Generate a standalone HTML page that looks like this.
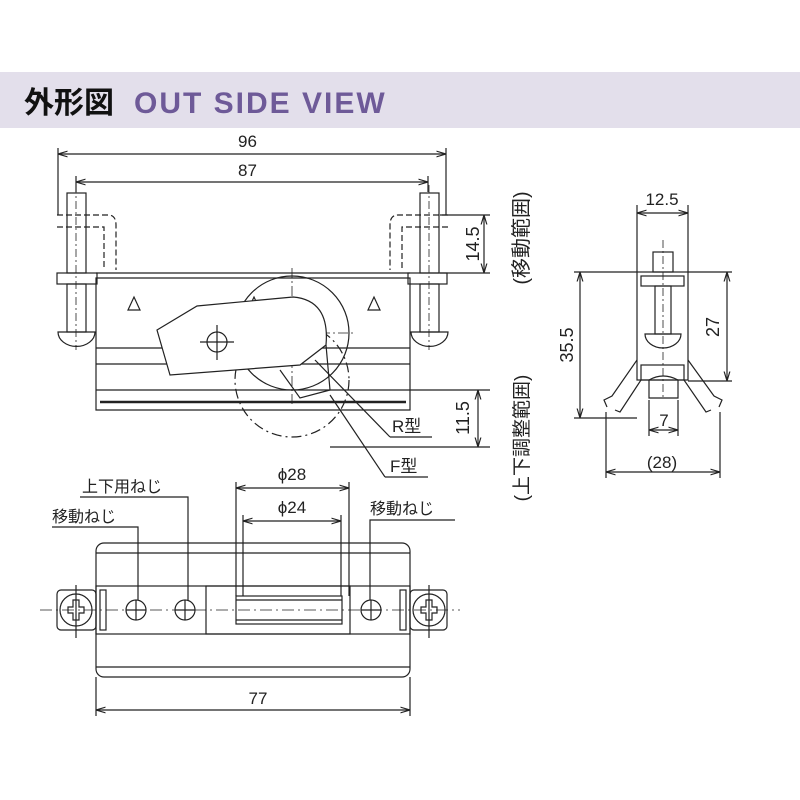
<!DOCTYPE html>
<html><head><meta charset="utf-8"><style>
body{margin:0;background:#fff}
svg{display:block}
text{font-family:"Liberation Sans","Noto Sans CJK JP",sans-serif;fill:#222}
</style></head><body>
<svg width="800" height="800" viewBox="0 0 800 800" xmlns="http://www.w3.org/2000/svg">
<defs>
<marker id="a" viewBox="0 0 10 10" refX="10" refY="5" markerWidth="8" markerHeight="8" orient="auto-start-reverse"><path d="M0,2 L10,5 L0,8" fill="none" stroke="#222" stroke-width="1.2"/></marker>
</defs>
<rect x="0" y="72" width="800" height="56" fill="#e3dfeb"/>
<text x="24" y="113" font-size="30" font-weight="bold" style="fill:#111">外形図</text>
<text x="134" y="113" font-size="30" font-weight="bold" letter-spacing="2" style="fill:#6e5a98">OUT SIDE VIEW</text>

<g stroke="#222" stroke-width="1.2" fill="none">
<line x1="58" y1="148" x2="58" y2="215"/><line x1="446" y1="148" x2="446" y2="215"/>
<line x1="58" y1="154" x2="446" y2="154" marker-start="url(#a)" marker-end="url(#a)"/>
<line x1="76" y1="176" x2="76" y2="192"/><line x1="428" y1="176" x2="428" y2="192"/>
<line x1="76" y1="182" x2="428" y2="182" marker-start="url(#a)" marker-end="url(#a)"/>
<path d="M96,278 L96,410 L410,410 L410,278 Z"/>
<line x1="96" y1="348" x2="410" y2="348"/>
<line x1="96" y1="364" x2="410" y2="364"/>
<line x1="96" y1="390" x2="490" y2="390"/>
<line x1="100" y1="402" x2="406" y2="402" stroke-width="2.5"/>
<line x1="96" y1="273" x2="410" y2="273"/>
<rect x="57" y="273" width="40" height="11"/>
<rect x="67" y="193" width="19" height="80"/>
<rect x="67" y="284" width="19" height="48"/>
<path d="M58,332 L95,332 A18,14 0 0 1 58,332 Z"/>
<path d="M57,215 L108,215 Q116,215 116,225 L116,270" stroke-dasharray="6,3"/>
<path d="M57,227 L104,227 L104,270" stroke-dasharray="6,3"/>
<line x1="76" y1="185" x2="76" y2="350" stroke-dasharray="8,3,2,3" stroke-width="0.8"/>
<rect x="408" y="273" width="39" height="11"/>
<rect x="420" y="193" width="19" height="80"/>
<rect x="420" y="284" width="19" height="48"/>
<path d="M411,332 L448,332 A18,14 0 0 1 411,332 Z"/>
<path d="M448,215 L398,215 Q390,215 390,225 L390,270" stroke-dasharray="6,3"/>
<path d="M448,227 L402,227 L402,270" stroke-dasharray="6,3"/>
<line x1="429" y1="185" x2="429" y2="350" stroke-dasharray="8,3,2,3" stroke-width="0.8"/>
<path d="M128,310 L134,297 L140,310 Z"/><path d="M248,310 L254,297 L260,310 Z"/><path d="M368,310 L374,297 L380,310 Z"/>
<circle cx="292" cy="333" r="57"/>
<circle cx="292" cy="380" r="57" stroke-dasharray="10,4,2,4"/>
<line x1="292" y1="268" x2="292" y2="405" stroke-dasharray="10,3,2,3" stroke-width="0.8"/>
<line x1="230" y1="333" x2="355" y2="333" stroke-dasharray="10,3,2,3" stroke-width="0.8"/>
<path d="M157,330 L197,306 L293,297 Q330,300 326,345 L300,365 L170,375 Z" fill="#fff"/>
<path d="M326,345 L330,390 L300,398 L280,370"/>
<circle cx="217" cy="342" r="10"/>
<line x1="200" y1="342" x2="234" y2="342"/><line x1="217" y1="325" x2="217" y2="360"/>
<line x1="315" y1="360" x2="390" y2="437"/><line x1="390" y1="437" x2="432" y2="437"/>
<line x1="330" y1="395" x2="385" y2="477"/><line x1="385" y1="477" x2="428" y2="477"/>
<line x1="440" y1="215" x2="490" y2="215"/><line x1="440" y1="273" x2="490" y2="273"/>
<line x1="484" y1="215" x2="484" y2="273" marker-start="url(#a)" marker-end="url(#a)"/>
<line x1="330" y1="447" x2="490" y2="447"/>
<line x1="478" y1="390" x2="478" y2="447" marker-start="url(#a)" marker-end="url(#a)"/>

<line x1="637" y1="205" x2="637" y2="272"/><line x1="688" y1="205" x2="688" y2="272"/>
<line x1="637" y1="213" x2="688" y2="213" marker-start="url(#a)" marker-end="url(#a)"/>
<rect x="653" y="252" width="20" height="20"/>
<rect x="637" y="272" width="51" height="108"/>
<rect x="641" y="276" width="43" height="10"/>
<rect x="655" y="286" width="16" height="48"/>
<path d="M645,334 L681,334 A18,14 0 0 1 645,334 Z"/>
<rect x="641" y="365" width="43" height="15"/>
<path d="M649,380 Q663,372 678,380 L678,398 L649,398 Z"/>
<line x1="663" y1="240" x2="663" y2="400" stroke-dasharray="8,3,2,3" stroke-width="0.8"/>
<path d="M637,360 L612,396 L604,400 L607,407 M641,380 L620,412 L615,410"/>
<path d="M688,360 L714,396 L722,400 L719,407 M684,380 L706,412 L711,410"/>
<line x1="574" y1="272" x2="637" y2="272"/><line x1="574" y1="418" x2="637" y2="418"/>
<line x1="580" y1="272" x2="580" y2="418" marker-start="url(#a)" marker-end="url(#a)"/>
<line x1="688" y1="381" x2="732" y2="381"/><line x1="688" y1="272" x2="732" y2="272"/>
<line x1="727" y1="272" x2="727" y2="381" marker-start="url(#a)" marker-end="url(#a)"/>
<line x1="649" y1="400" x2="649" y2="436"/><line x1="678" y1="400" x2="678" y2="436"/>
<line x1="649" y1="430" x2="678" y2="430" marker-start="url(#a)" marker-end="url(#a)"/>
<line x1="606" y1="412" x2="606" y2="478"/><line x1="720" y1="412" x2="720" y2="478"/>
<line x1="606" y1="472" x2="720" y2="472" marker-start="url(#a)" marker-end="url(#a)"/>

<rect x="96" y="543" width="314" height="134" rx="8"/>
<line x1="96" y1="553" x2="410" y2="553"/><line x1="96" y1="667" x2="410" y2="667"/>
<rect x="96" y="586" width="314" height="48"/>
<rect x="57" y="590" width="39" height="40" rx="4"/><rect x="410" y="590" width="37" height="40" rx="4"/>
<circle cx="76" cy="610" r="16"/><circle cx="429" cy="610" r="16"/>
<path d="M68,607 h5 v-7 h6 v7 h5 v6 h-5 v7 h-6 v-7 h-5 z"/>
<path d="M421,607 h5 v-7 h6 v7 h5 v6 h-5 v7 h-6 v-7 h-5 z"/>
<rect x="100" y="590" width="6" height="40"/><rect x="400" y="590" width="6" height="40"/>
<rect x="206" y="586" width="144" height="48"/>
<rect x="236" y="596" width="106" height="28"/>
<line x1="236" y1="600" x2="342" y2="600"/><line x1="236" y1="620" x2="342" y2="620"/>
<line x1="40" y1="610" x2="460" y2="610" stroke-dasharray="12,4,2,4" stroke-width="0.8"/>
<line x1="76" y1="585" x2="76" y2="638"/><line x1="429" y1="585" x2="429" y2="638"/>
<circle cx="136" cy="610" r="10"/><circle cx="185" cy="610" r="10"/><circle cx="371" cy="610" r="10"/>
<path d="M126,610 h20 M136,600 v20 M175,610 h20 M185,600 v20 M361,610 h20 M371,600 v20"/>
<line x1="236" y1="482" x2="236" y2="596"/><line x1="349" y1="482" x2="349" y2="596"/>
<line x1="236" y1="488" x2="349" y2="488" marker-start="url(#a)" marker-end="url(#a)"/>
<line x1="243" y1="515" x2="243" y2="596"/><line x1="341" y1="515" x2="341" y2="596"/>
<line x1="243" y1="521" x2="341" y2="521" marker-start="url(#a)" marker-end="url(#a)"/>
<path d="M80,497 L188,497 L188,600" /><path d="M52,527 L138,527 L138,600"/>
<path d="M455,520 L370,520 L370,600"/>
<line x1="96" y1="677" x2="96" y2="716"/><line x1="410" y1="677" x2="410" y2="716"/>
<line x1="96" y1="710" x2="410" y2="710" marker-start="url(#a)" marker-end="url(#a)"/>
</g>

<g font-size="17">
<text x="238" y="147">96</text>
<text x="238" y="176">87</text>
<text x="479" y="244" font-size="18" transform="rotate(-90 479 244)" text-anchor="middle">14.5</text>
<text x="469" y="418" font-size="18" transform="rotate(-90 469 418)" text-anchor="middle">11.5</text>
<text x="528" y="238" font-size="20" transform="rotate(-90 528 238)" text-anchor="middle">(移動範囲)</text>
<text x="528" y="438" font-size="19" transform="rotate(-90 528 438)" text-anchor="middle">(上下調整範囲)</text>
<text x="392" y="432">R型</text>
<text x="390" y="472">F型</text>
<text x="662" y="205" text-anchor="middle">12.5</text>
<text x="573" y="345" font-size="18" transform="rotate(-90 573 345)" text-anchor="middle">35.5</text>
<text x="719" y="327" font-size="18" transform="rotate(-90 719 327)" text-anchor="middle">27</text>
<text x="664" y="426" text-anchor="middle">7</text>
<text x="662" y="468" text-anchor="middle">(28)</text>
<text x="292" y="480" text-anchor="middle">ϕ28</text>
<text x="292" y="513" text-anchor="middle">ϕ24</text>
<text x="82" y="492" font-size="16">上下用ねじ</text>
<text x="52" y="522" font-size="16">移動ねじ</text>
<text x="370" y="514" font-size="16">移動ねじ</text>
<text x="258" y="704" text-anchor="middle">77</text>
</g>
</svg>
</body></html>
